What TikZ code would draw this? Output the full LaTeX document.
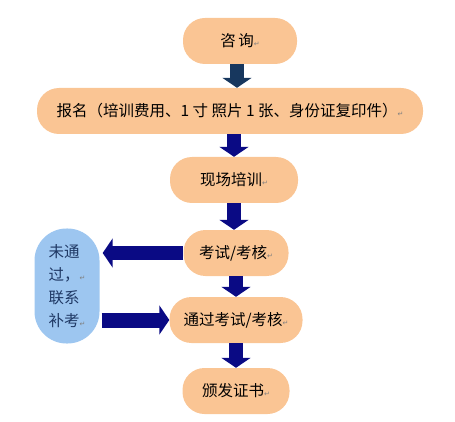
\documentclass[tikz,border=0pt]{standalone}
\usepackage{fontspec}
\setmainfont{Noto Sans CJK SC}
\newfontfamily\symfont{DejaVu Sans}
\definecolor{peachFill}{HTML}{FAC594}
\definecolor{skyFill}{HTML}{9DC6F0}
\definecolor{navyArrow}{HTML}{0A0A84}
\definecolor{slateArrow}{HTML}{17375E}
\definecolor{inkBlue}{HTML}{1F3864}
\usetikzlibrary{arrows.meta, positioning}
\newcommand{\pmark}{{\symfont\fontsize{7}{7}\selectfont\color{gray}↵}}

\begin{document}
\begin{tikzpicture}[
    x=1pt, y=-1pt,
    procbox/.style={rectangle, fill=peachFill, rounded corners=22pt,
                  minimum height=46pt, inner sep=2pt, align=center,
                  font=\fontsize{15.5}{18}\selectfont},
    retrybox/.style={rectangle, fill=skyFill, rounded corners=32pt,
                  minimum width=65pt, minimum height=115pt, align=left,
                  text=inkBlue, font=\fontsize{15.5}{23}\selectfont},
    flow/.style={line width=14pt, navyArrow, -{Triangle[length=10pt, width=29pt]}}
  ]
    \useasboundingbox (0,0) rectangle (455,422);
    \node[procbox, minimum width=114pt] (consult) at (240,41) {咨\,询\pmark};
    \node[procbox, minimum width=386pt] (enrol) at (230,111) {报名（培训费用、1 寸 照片 1 张、身份证复印件）\pmark};
    \node[procbox, minimum width=128pt] (train) at (234,180) {现场培训\pmark};
    \node[procbox, minimum width=105pt] (exam) at (236,253) {考试/考核\pmark};
    \node[procbox, minimum width=133pt] (pass) at (236,320) {通过考试/考核\pmark};
    \node[procbox, minimum width=107pt] (cert) at (236,391) {颁发证书\pmark};
    \node[retrybox] (retry) at (67,286) {未通\\过，\pmark\\联系\\补考\pmark};
    \draw[flow, slateArrow] ([xshift=-3pt]consult.south) -- ([xshift=-3pt]consult.south |- enrol.north);
    \draw[flow] (enrol.south -| train.north) -- (train.north);
    \draw[flow] (train.south) -- (train.south |- exam.north);
    \draw[flow] (exam.south) -- (pass.north);
    \draw[flow] (pass.south) -- (cert.north);
    \draw[flow] (exam.west) -- ([xshift=3pt]exam.west -| retry.east);
    \draw[flow, line width=15pt] ([xshift=2pt]retry.east |- pass.west) -- (pass.west);
  \end{tikzpicture}
\end{document}
